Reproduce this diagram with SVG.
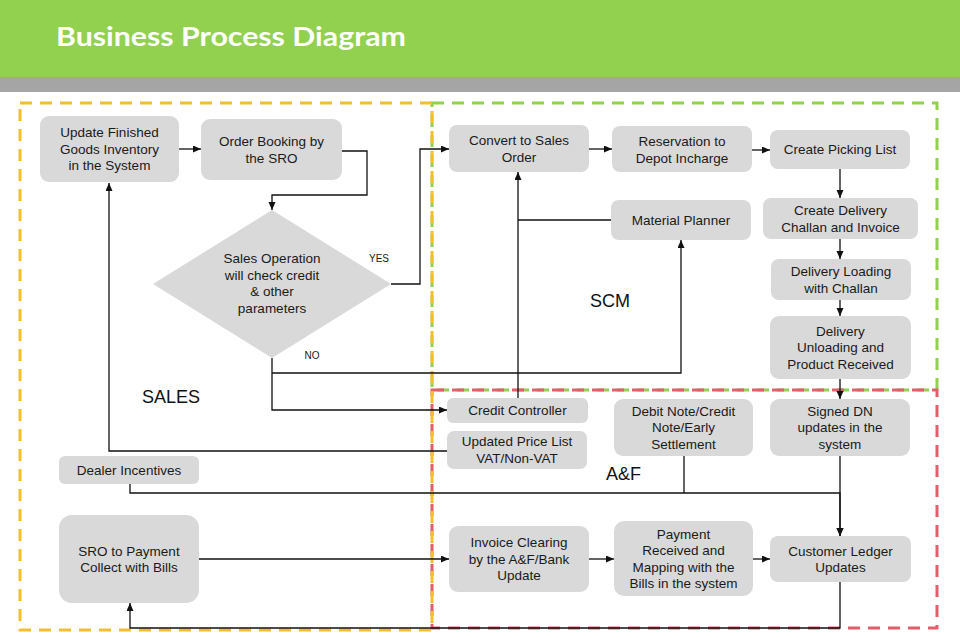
<svg xmlns="http://www.w3.org/2000/svg" width="960" height="638" viewBox="0 0 960 638">
<style>
.node{fill:#D9D9D9}
.t{font-family:"Liberation Sans",Arial,sans-serif;font-size:13.5px;fill:#1a1a1a;text-anchor:middle}
.lbl{font-family:"Liberation Sans",Arial,sans-serif;font-size:10px;fill:#1a1a1a;text-anchor:middle}
.zone{font-family:"Liberation Sans",Arial,sans-serif;font-size:18px;fill:#111}
.c{fill:none;stroke:#111;stroke-width:1.3}
.z{fill:none;stroke-width:3;stroke-dasharray:12 8}
</style>
<defs>
<marker id="ah" markerUnits="userSpaceOnUse" markerWidth="9" markerHeight="8" refX="8" refY="3.5" orient="auto">
<path d="M0,0 L8,3.5 L0,7 z" fill="#111"/>
</marker>
</defs>
<rect x="0" y="0" width="960" height="638" fill="#fff"/>
<g id="header">
<rect x="0" y="0" width="960" height="77" fill="#92D050"/>
<rect x="0" y="77" width="960" height="15" fill="#A5A5A5"/>
<text x="56" y="46" font-family="Lato,'Open Sans',sans-serif" font-weight="bold" font-size="27" fill="#fff" textLength="350" lengthAdjust="spacingAndGlyphs">Business Process Diagram</text>
</g>
<g id="zones">
<rect class="z" x="432" y="103" width="505" height="287" stroke="#92D050"/>
<rect class="z" x="432" y="390" width="505" height="238" stroke="#E35D6A"/>
<rect class="z" x="20" y="103" width="412" height="527" stroke="#F4BF2A"/>
<text class="zone" x="142" y="403">SALES</text>
<text class="zone" x="590" y="307">SCM</text>
<text class="zone" x="606" y="480">A&amp;F</text>
</g>
<g id="connectors">
<path class="c" d="M179,149 H201" marker-end="url(#ah)"/>
<path class="c" d="M342,151 H367 V195 H272 V210" marker-end="url(#ah)"/>
<path class="c" d="M391,284 H420 V149 H449" marker-end="url(#ah)"/>
<path class="c" d="M272,358 V410 H447" marker-end="url(#ah)"/>
<path class="c" d="M272,373 H681 V240" marker-end="url(#ah)"/>
<path class="c" d="M518,398 V172" marker-end="url(#ah)"/>
<path class="c" d="M611,220 H518"/>
<path class="c" d="M447,451 H109 V183" marker-end="url(#ah)"/>
<path class="c" d="M130,484 V493 H840 V536" marker-end="url(#ah)"/>
<path class="c" d="M684,456 V493"/>
<path class="c" d="M840,456 V536" marker-end="url(#ah)"/>
<path class="c" d="M589,149 H612" marker-end="url(#ah)"/>
<path class="c" d="M752,150 H770" marker-end="url(#ah)"/>
<path class="c" d="M840,169 V198" marker-end="url(#ah)"/>
<path class="c" d="M840,239 V259" marker-end="url(#ah)"/>
<path class="c" d="M840,300 V316" marker-end="url(#ah)"/>
<path class="c" d="M840,379 V399" marker-end="url(#ah)"/>
<path class="c" d="M199,559 H449" marker-end="url(#ah)"/>
<path class="c" d="M589,559 H614" marker-end="url(#ah)"/>
<path class="c" d="M753,559 H770" marker-end="url(#ah)"/>
<path class="c" d="M840,582 V628 H130 V603" marker-end="url(#ah)"/>
<text class="lbl" x="379" y="262">YES</text>
<text class="lbl" x="312" y="359">NO</text>
</g>
<g id="n1"><rect class="node" x="40" y="116" width="139" height="66" rx="9"/>
<text class="t" x="109.5" y="137">Update Finished<tspan x="109.5" dy="16.5">Goods Inventory</tspan><tspan x="109.5" dy="16.5">in the System</tspan></text></g>
<g id="n2"><rect class="node" x="201" y="119" width="141" height="61" rx="9"/>
<text class="t" x="271.5" y="146">Order Booking by<tspan x="271.5" dy="16.5">the SRO</tspan></text></g>
<g id="n3"><polygon class="node" points="272,210 391,284 272,358 153,284"/>
<text class="t" x="272" y="263">Sales Operation<tspan x="272" dy="16.5">will check credit</tspan><tspan x="272" dy="16.5">&amp; other</tspan><tspan x="272" dy="16.5">parameters</tspan></text></g>
<g id="n4"><rect class="node" x="449" y="125" width="140" height="47" rx="8"/>
<text class="t" x="519" y="145">Convert to Sales<tspan x="519" dy="16.5">Order</tspan></text></g>
<g id="n5"><rect class="node" x="612" y="126" width="140" height="46" rx="8"/>
<text class="t" x="682" y="146">Reservation to<tspan x="682" dy="16.5">Depot Incharge</tspan></text></g>
<g id="n6"><rect class="node" x="770" y="130" width="140" height="39" rx="8"/>
<text class="t" x="840" y="154">Create Picking List</text></g>
<g id="n7"><rect class="node" x="611" y="200" width="140" height="40" rx="8"/>
<text class="t" x="681" y="224.5">Material Planner</text></g>
<g id="n8"><rect class="node" x="763" y="198" width="155" height="41" rx="8"/>
<text class="t" x="840.5" y="215">Create Delivery<tspan x="840.5" dy="16.5">Challan and Invoice</tspan></text></g>
<g id="n9"><rect class="node" x="771" y="259" width="140" height="41" rx="8"/>
<text class="t" x="841" y="276">Delivery Loading<tspan x="841" dy="16.5">with Challan</tspan></text></g>
<g id="n10"><rect class="node" x="770" y="316" width="141" height="63" rx="9"/>
<text class="t" x="840.5" y="335.5">Delivery<tspan x="840.5" dy="16.5">Unloading and</tspan><tspan x="840.5" dy="16.5">Product Received</tspan></text></g>
<g id="n11"><rect class="node" x="447" y="398" width="141" height="25" rx="6"/>
<text class="t" x="517.5" y="415">Credit Controller</text></g>
<g id="n12"><rect class="node" x="447" y="431" width="140" height="38" rx="7"/>
<text class="t" x="517" y="446">Updated Price List<tspan x="517" dy="16.5">VAT/Non-VAT</tspan></text></g>
<g id="n13"><rect class="node" x="614" y="399" width="139" height="57" rx="9"/>
<text class="t" x="683.5" y="415.5">Debit Note/Credit<tspan x="683.5" dy="16.5">Note/Early</tspan><tspan x="683.5" dy="16.5">Settlement</tspan></text></g>
<g id="n14"><rect class="node" x="770" y="399" width="140" height="57" rx="9"/>
<text class="t" x="840" y="415.5">Signed DN<tspan x="840" dy="16.5">updates in the</tspan><tspan x="840" dy="16.5">system</tspan></text></g>
<g id="n16"><rect class="node" x="449" y="526" width="140" height="66" rx="9"/>
<text class="t" x="519" y="547">Invoice Clearing<tspan x="519" dy="16.5">by the A&amp;F/Bank</tspan><tspan x="519" dy="16.5">Update</tspan></text></g>
<g id="n17"><rect class="node" x="614" y="521" width="139" height="75" rx="10"/>
<text class="t" x="683.5" y="538.5">Payment<tspan x="683.5" dy="16.5">Received and</tspan><tspan x="683.5" dy="16.5">Mapping with the</tspan><tspan x="683.5" dy="16.5">Bills in the system</tspan></text></g>
<g id="n18"><rect class="node" x="770" y="536" width="141" height="46" rx="8"/>
<text class="t" x="840.5" y="555.5">Customer Ledger<tspan x="840.5" dy="16.5">Updates</tspan></text></g>
<g id="n19"><rect class="node" x="59" y="456" width="140" height="28" rx="6"/>
<text class="t" x="129" y="474.5">Dealer Incentives</text></g>
<g id="n20"><rect class="node" x="59" y="515" width="140" height="88" rx="13"/>
<text class="t" x="129" y="555.5">SRO to Payment<tspan x="129" dy="16.5">Collect with Bills</tspan></text></g>
</svg>
